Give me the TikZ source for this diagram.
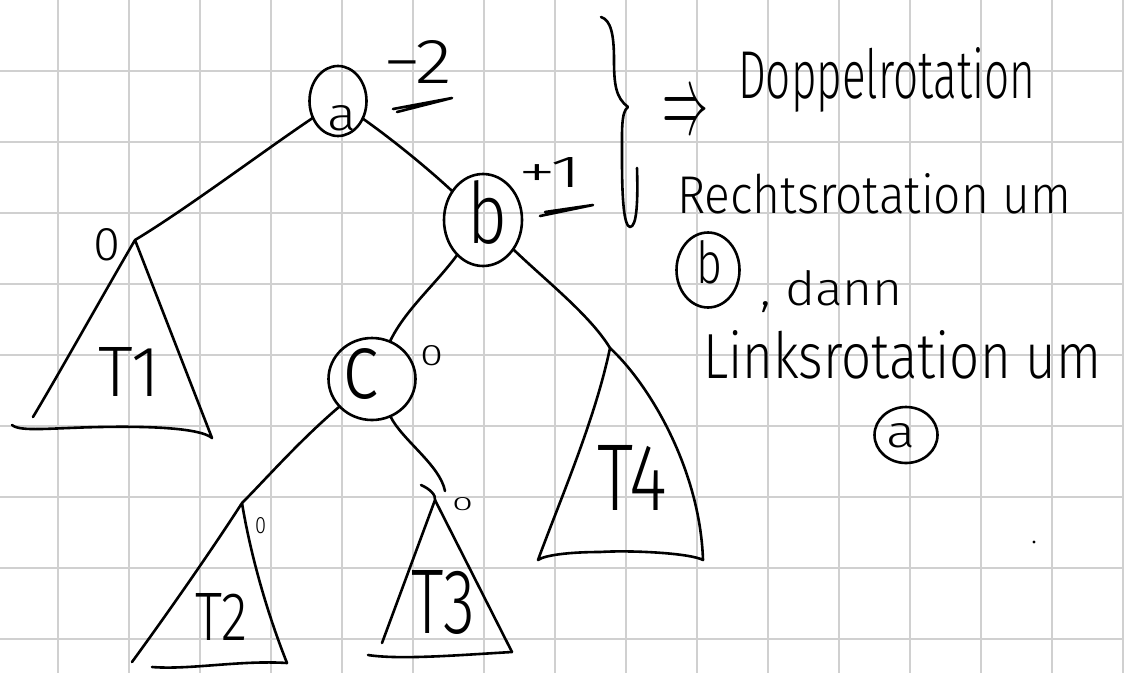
\documentclass[tikz,border=0pt]{standalone}
\usepackage{fontspec}
\usepackage{graphicx}
\newfontfamily\handfont{Fira Sans}[UprightFont={* Light}]
\usetikzlibrary{shapes.geometric}
\definecolor{gridgray}{RGB}{208,208,208}
\newcommand{\fitw}[3]{\resizebox{#1pt}{#2pt}{\handfont #3}}
\newcommand{\inglyph}[5]{\raisebox{#2pt}[0pt][0pt]{\makebox[0pt]{\hspace*{#1pt}\fitw{#3}{#4}{#5}}}}
\begin{document}
\begin{tikzpicture}[x=1pt,y=-1pt,
  ink/.style={line width=2.6pt, line cap=round, line join=round, draw=black},
  gridline/.style={line width=2pt, draw=gridgray},
  knot/.style={ellipse, draw=black, line width=2.6pt, inner sep=0pt, outer sep=0pt},
  txt/.style={inner sep=0pt, outer sep=0pt, anchor=base west, text=black}]
\useasboundingbox (0,0) rectangle (1124,673);
\fill[white] (0,0) rectangle (1124,673);
% grid paper
\foreach \i in {0,...,15} \draw[gridline] (58+71*\i,0) -- (58+71*\i,673);
\foreach \j in {1,...,9} \draw[gridline] (0,71*\j) -- (1124,71*\j);

% tree nodes
\node[knot, minimum width=57pt, minimum height=70pt] (a) at (338,101) {\inglyph{8}{-29.5}{29}{25}{a}};
\node[knot, minimum width=78pt, minimum height=92pt] (b) at (483,220) {\inglyph{8}{-23}{40}{63}{b}};
\node[knot, minimum width=87pt, minimum height=82pt] (c) at (372,379) {\inglyph{-21}{-19}{37}{50}{c}};

% subtree tips
\coordinate (t1top) at (135,240);
\coordinate (t2top) at (242,503);
\coordinate (t3top) at (435,500);
\coordinate (t3join) at (445,491);
\coordinate (t4top) at (610,348);

% connectors
\draw[ink] (a) .. controls (265,150) and (185,210) .. (t1top);
\draw[ink] (a) .. controls (400,145) and (435,175) .. (b);
\draw[ink] (b) .. controls (435,285) and (405,310) .. (c);
\draw[ink] (b) .. controls (545,280) and (590,315) .. (t4top);
\draw[ink] (c) .. controls (300,440) and (265,480) .. (t2top);
\draw[ink] (c) .. controls (402,440) and (440,465) .. (t3join);

% subtrees
\draw[ink] (33,417) .. controls (60,372) and (100,300) .. (t1top) -- (212,438)
  .. controls (200,428) and (150,426) .. (100,427) .. controls (50,428) and (20,432) .. (12,425);
\draw[ink] (132,662) .. controls (170,610) and (215,545) .. (t2top)
  .. controls (248,540) and (262,600) .. (287,663);
\draw[ink] (152,667) .. controls (190,670) and (240,660) .. (287,663);
\draw[ink] (421,485) .. controls (430,489) and (436,495) .. (t3top) -- (382,643);
\draw[ink] (t3top) -- (512,652);
\draw[ink] (368,655) .. controls (400,660) and (460,655) .. (512,652);
\draw[ink] (538,560) .. controls (560,500) and (595,420) .. (t4top)
  .. controls (650,385) and (700,470) .. (703,560)
  .. controls (690,553) and (630,550) .. (600,552) .. controls (570,552) and (545,555) .. (538,560);

% balance factors
\node[txt] (bfa) at (383,83) {\fitw{69}{43}{−2}};
\draw[ink] (393,109) -- (452,98) -- (397,112);
\node[txt] (bfb) at (518,187) {\fitw{64}{30}{+1}};
\draw[ink] (540,216) -- (593,205) -- (545,212);
\node[txt] (bf1) at (93,260) {\fitw{27}{32}{0}};
\node[txt] (bfc) at (420,365) {\fitw{23}{20}{0}};
\node[txt] (bf2) at (255,533) {\fitw{11}{16}{0}};
\node[txt] (bf3) at (452,510) {\fitw{21}{13}{0}};

% subtree labels
\node[txt] (T1) at (98,396) {\fitw{62}{49}{T1}};
\node[txt] (T2) at (195,640) {\fitw{53}{47}{T2}};
\node[txt] (T3) at (411,633) {\fitw{64}{63}{T3}};
\node[txt] (T4) at (597,510) {\fitw{70}{65}{T4}};

% brace
\draw[ink] (601,17) .. controls (611,20) and (614,35) .. (614,60) .. controls (614,85) and (616,98) .. (628,107);
\draw[ink] (628,107) .. controls (621,112) and (622,130) .. (622,160)
  .. controls (622,200) and (624,226) .. (630,227) .. controls (637,227) and (638,200) .. (637,168);

% notes
\node[inner sep=0pt, outer sep=0pt] (impl) at (685,115) {\resizebox{46pt}{36pt}{$\Rightarrow$}};
\node[txt] (l1) at (738,98) {\fitw{297}{51}{Doppelrotation}};
\node[txt] (l2) at (677,213) {\fitw{394}{40}{Rechtsrotation um}};
\node[knot, minimum width=63pt, minimum height=75pt] (bref) at (708,270) {\inglyph{2}{-13}{26}{43}{b}};
\node[txt] (l3) at (760,305) {\fitw{143}{35}{, dann}};
\node[txt] (l4) at (703,378) {\fitw{398}{48}{Linksrotation um}};
\node[knot, minimum width=63pt, minimum height=56pt] (aref) at (906,435) {\inglyph{-11}{-12}{29}{24}{a}};
\fill[black] (1034,542) circle (1.6);
\end{tikzpicture}
\end{document}
